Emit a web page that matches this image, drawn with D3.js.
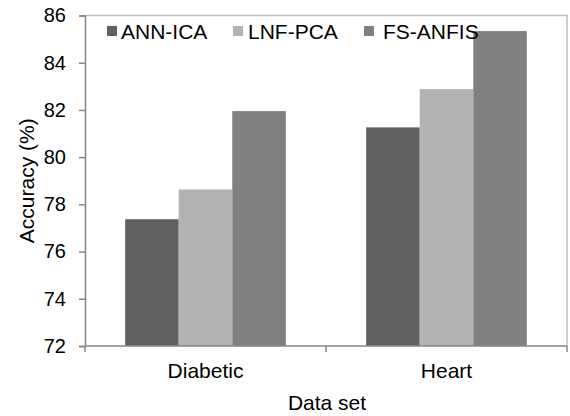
<!DOCTYPE html>
<html>
<head>
<meta charset="utf-8">
<script src="https://cdn.jsdelivr.net/npm/d3@7"></script>
<style>
  body { margin: 0; background: #fff; }
  svg { display: block; font-family: "Liberation Sans", Arial, sans-serif; }
</style>
</head>
<body>
<div id="chart"></div>
<script>
// data
const categories = ["Diabetic", "Heart"];
const seriesNames = ["ANN-ICA", "LNF-PCA", "FS-ANFIS"];
const annIca = [77.37, 81.26];
const lnfPca = [78.63, 82.88];
const fsAnfis = [81.95, 85.34];
const yTicks = [72, 74, 76, 78, 80, 82, 84, 86];

const seriesValues = [annIca, lnfPca, fsAnfis];
const colors = ["#606060", "#b3b3b3", "#808080"];

const width = 570,
  height = 416,
  marginTop = 15.5,
  marginRight = 3,
  marginBottom = 70,
  marginLeft = 85,
  tickFont = 20,
  labelFont = 21;

const svg = d3
  .select("#chart")
  .append("svg")
  .attr("width", width)
  .attr("height", height)
  .attr("viewBox", [0, 0, width, height]);

// scales
const x0 = d3
  .scaleBand(categories, [marginLeft, width - marginRight])
  .paddingInner(1 / 3)
  .paddingOuter(1 / 6);
const x1 = d3.scaleBand(seriesNames, [0, x0.bandwidth()]);
const y = d3.scaleLinear([72, 86], [height - marginBottom, marginTop]);

// plot frame (top + right)
svg
  .append("path")
  .attr("d", `M${marginLeft},${y(86)}H${width - marginRight}V${y(72)}`)
  .attr("fill", "none")
  .attr("stroke", "#c0c0c0")
  .attr("stroke-width", 1.5);

// bars
const rows = [];
categories.forEach((c, i) => {
  seriesNames.forEach((s, j) => {
    rows.push({ cat: c, series: s, value: seriesValues[j][i], color: colors[j] });
  });
});

svg
  .append("g")
  .selectAll("rect")
  .data(rows)
  .join("rect")
  .attr("x", (d) => x0(d.cat) + x1(d.series))
  .attr("y", (d) => y(d.value))
  .attr("width", x1.bandwidth())
  .attr("height", (d) => y(72) - y(d.value))
  .attr("fill", (d) => d.color);

// y axis
svg
  .append("g")
  .attr("transform", `translate(${marginLeft},0)`)
  .call(d3.axisLeft(y).tickValues(yTicks).tickSize(6).tickPadding(13).tickFormat(d3.format("d")))
  .call((g) => g.select(".domain").attr("stroke", "#868686").attr("stroke-width", 1.5))
  .call((g) => g.selectAll(".tick line").attr("stroke", "#868686").attr("stroke-width", 1.5))
  .call((g) =>
    g
      .selectAll(".tick text")
      .attr("font-size", tickFont)
      .attr("font-family", "Liberation Sans, Arial, sans-serif")
      .attr("fill", "#000")
  );

// x axis: ticks at band boundaries
const xBoundaries = [
  marginLeft,
  (x0(categories[0]) + x0(categories[1]) + x0.bandwidth()) / 2,
  width - marginRight,
];
const xg = svg.append("g").attr("transform", `translate(0,${y(72)})`);
xg.append("line")
  .attr("x1", marginLeft)
  .attr("x2", width - marginRight)
  .attr("stroke", "#868686")
  .attr("stroke-width", 1.5);
xg.selectAll(".xtick")
  .data(xBoundaries)
  .join("line")
  .attr("class", "xtick")
  .attr("x1", (d) => d)
  .attr("x2", (d) => d)
  .attr("y1", 0)
  .attr("y2", 6)
  .attr("stroke", "#868686")
  .attr("stroke-width", 1.5);
xg.selectAll(".xlabel")
  .data(categories)
  .join("text")
  .attr("class", "xlabel")
  .attr("x", (d) => x0(d) + x0.bandwidth() / 2)
  .attr("y", 32)
  .attr("text-anchor", "middle")
  .attr("font-size", labelFont)
  .text((d) => d);

// axis titles
svg
  .append("text")
  .attr("x", 327)
  .attr("y", 410)
  .attr("text-anchor", "middle")
  .attr("font-size", labelFont)
  .text("Data set");

svg
  .append("text")
  .attr("transform", `translate(34,${(y(72) + y(86)) / 2}) rotate(-90)`)
  .attr("text-anchor", "middle")
  .attr("font-size", labelFont)
  .text("Accuracy (%)");

// legend
const legendSquareX = [107, 233, 364];
const legendTextX = [121, 248, 383];
const legend = svg
  .append("g")
  .selectAll("g")
  .data(seriesNames)
  .join("g");
legend
  .append("rect")
  .attr("x", (d, i) => legendSquareX[i])
  .attr("y", 26)
  .attr("width", 10)
  .attr("height", 10)
  .attr("fill", (d, i) => colors[i]);
legend
  .append("text")
  .attr("x", (d, i) => legendTextX[i])
  .attr("y", 39)
  .attr("font-size", labelFont)
  .text((d) => d);
</script>
</body>
</html>
